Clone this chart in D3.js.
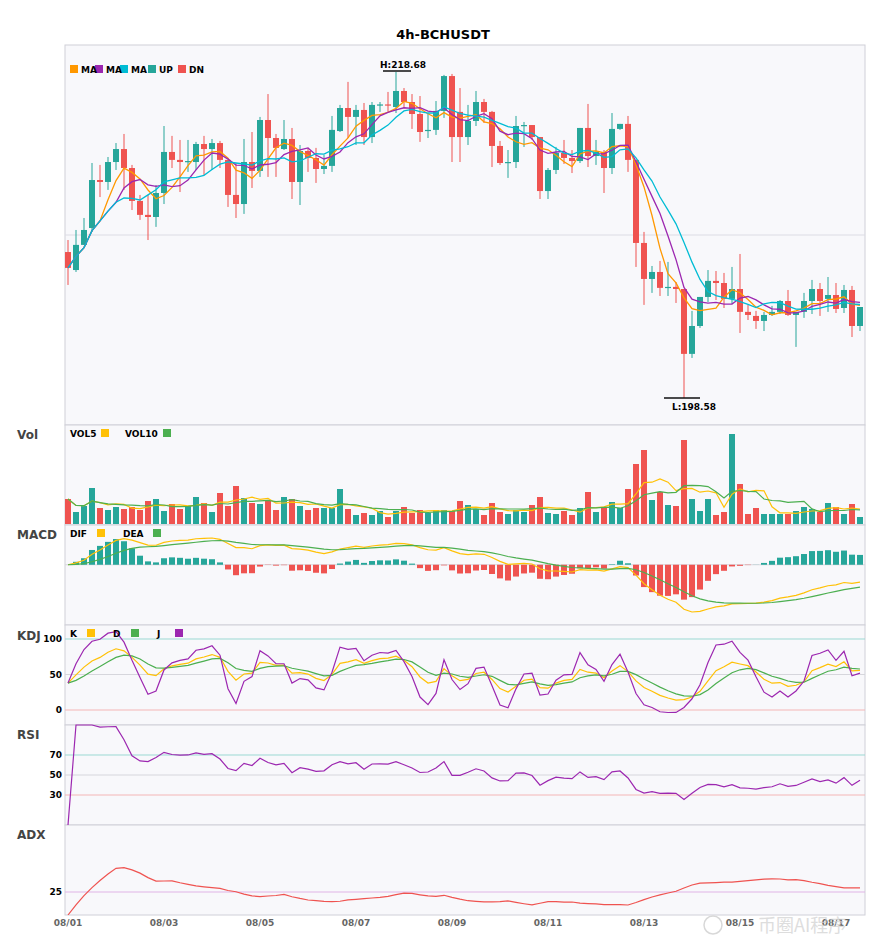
<!DOCTYPE html>
<html>
<head>
<meta charset="utf-8">
<script src="https://cdn.jsdelivr.net/npm/d3@7"></script>
<style>
  body { margin: 0; background: #fff; font-family: "DejaVu Sans", sans-serif; }
</style>
</head>
<body>
<svg id="chart" width="885" height="950"></svg>
<script>
// 4h candles
const open = [207.58,206.47,208.02,209.06,212.02,211.9,213.13,213.93,212.76,210.73,209.87,209.74,211.22,213.75,213.26,213.13,213.13,214.24,213.93,214.3,
  213.26,211.1,210.54,213.13,212.58,215.72,214.61,213.93,214.55,211.9,213.81,213.38,212.7,212.89,215.04,216.46,215.91,216.34,214.67,216.65,
  216.68,216.52,217.51,216.83,216.09,215.04,215.11,216.28,218.43,216.22,214.67,215.66,216.83,216.22,214.12,213.07,213.13,215.35,215.41,214.67,
  211.34,212.64,213.69,213.38,213.19,215.23,213.5,213.75,212.76,215.17,215.48,213.26,208.14,205.92,206.35,205.37,205.43,205.3,201.3,203.02,
  204.81,205.8,205.67,204.69,205.3,203.89,203.64,203.33,203.7,203.89,204.56,203.7,203.89,204.56,205.3,204.69,204.93,204.13,205.24,203.02];
const close = [206.6,208.02,208.94,212.02,211.9,213.13,213.93,212.76,210.73,209.87,209.74,211.22,213.75,213.26,213.13,213.19,214.24,213.93,214.3,213.26,
  211.1,210.54,213.13,212.58,215.72,214.61,214.0,214.55,211.9,213.81,213.38,212.7,212.89,215.11,216.46,215.91,216.34,214.67,216.65,216.68,
  216.65,217.51,216.83,216.09,214.98,215.11,216.28,218.43,214.67,214.67,215.66,216.83,216.22,214.12,213.07,213.13,215.35,215.41,214.67,211.34,
  212.64,213.69,213.38,213.19,215.23,213.5,213.75,212.76,215.17,215.48,213.26,208.14,205.92,206.35,205.37,205.43,205.3,201.3,203.02,204.81,
  205.8,205.67,204.69,205.3,203.89,203.7,203.33,203.7,203.89,204.56,203.7,203.89,204.56,205.3,204.56,204.93,204.07,205.24,203.02,204.19];
const high = [208.32,208.94,209.68,213.07,212.95,213.44,214.3,214.86,212.95,211.1,211.1,211.71,215.35,214.74,214.49,214.49,214.37,214.74,214.55,214.43,
  213.26,213.07,214.55,214.98,215.91,217.32,214.86,215.72,215.23,214.18,214.0,214.0,213.56,215.97,216.65,218.07,216.65,216.77,216.83,216.83,
  217.45,218.68,217.69,217.32,217.2,216.15,216.89,218.5,218.56,217.69,216.65,217.51,217.02,216.28,214.43,213.87,215.97,215.6,215.41,214.67,
  212.76,214.06,214.49,213.87,215.23,216.71,214.49,213.87,216.15,215.48,215.97,213.26,208.82,206.72,207.03,206.97,205.73,205.3,203.95,204.81,
  206.47,206.41,206.29,206.66,207.46,204.32,203.95,203.89,204.26,204.62,205.24,203.89,205.06,205.86,205.67,206.04,205.67,205.55,205.49,204.19];
const low = [205.55,206.35,208.02,208.82,210.97,211.41,212.64,211.41,210.17,209.56,208.32,209.13,210.54,212.76,211.28,212.52,212.64,212.33,212.64,212.76,
  210.36,209.68,209.93,211.53,212.21,212.21,212.21,213.87,210.85,210.48,212.52,211.84,212.39,212.52,214.98,214.61,214.18,214.18,214.3,216.22,
  216.22,216.15,216.46,215.17,214.37,214.61,214.8,215.85,213.13,213.13,214.18,215.35,215.54,212.82,212.95,212.15,212.76,214.06,214.49,210.85,
  210.85,212.39,213.01,212.45,213.07,212.82,212.95,211.22,212.39,215.11,212.52,206.66,204.32,205.06,204.87,204.87,204.44,198.58,201.05,202.9,
  204.5,204.62,204.13,204.38,202.59,203.39,202.84,202.71,203.64,203.76,203.64,201.73,203.52,203.76,203.64,203.89,203.82,203.82,202.34,202.71];
const volume = [25,12,18,36,16,14,17,15,17,14,23,25,13,20,15,18,27,21,12,31,
  18,38,26,21,20,23,14,27,25,18,14,16,16,16,35,15,9,11,9,13,
  7,13,17,11,14,11,14,14,13,23,19,15,9,21,12,10,14,12,19,27,
  11,10,13,9,16,32,12,17,22,16,35,60,74,24,32,19,18,84,25,13,
  25,9,12,90,40,10,16,10,10,10,10,13,17,15,12,21,17,10,20,7];
const tickIdx = [0,12,24,36,48,60,72,84,96];
const tickLabels = ["08/01","08/03","08/05","08/07","08/09","08/11","08/13","08/15","08/17"];
const maPeriods = [5,7,10];

const UP = "#26a69a", DN = "#ef5350";
const svg = d3.select("#chart");
const L = 65, R = 865;
const n = close.length;
const x = d3.scaleLinear().domain([0, n - 1]).range([68, 860]);

// indicator helpers
const sma = (arr, p) => arr.map((_, i) => d3.mean(arr.slice(Math.max(0, i - p + 1), i + 1)));
const ema = (arr, p) => { const k = 2 / (p + 1); let e = arr[0]; return arr.map(v => (e = v * k + e * (1 - k))); };

const ma = maPeriods.map(p => sma(close, p));
const vol5 = sma(volume, 5), vol10 = sma(volume, 10);
const e12 = ema(close, 12), e26 = ema(close, 26);
const dif = close.map((_, i) => e12[i] - e26[i]);
const dea = ema(dif, 9);
const hist = dif.map((d, i) => 2 * (d - dea[i]));

const K = [], D = [], J = [];
close.forEach((c, i) => {
  const s = Math.max(0, i - 8);
  const hh = d3.max(high.slice(s, i + 1)), ll = d3.min(low.slice(s, i + 1));
  const rsv = hh === ll ? 50 : (c - ll) / (hh - ll) * 100;
  const k = i === 0 ? rsv : K[i - 1] * 2 / 3 + rsv / 3;
  const d = i === 0 ? rsv : D[i - 1] * 2 / 3 + k / 3;
  K.push(k); D.push(d); J.push(3 * k - 2 * d);
});

const rsi = [];
let ag = 0, al = 0;
close.forEach((c, i) => {
  if (i === 0) { rsi.push(0); return; }
  const ch = c - close[i - 1];
  const g = Math.max(ch, 0), l = Math.max(-ch, 0);
  if (i <= 14) { ag = (ag * (i - 1) + g) / i; al = (al * (i - 1) + l) / i; }
  else { ag = (ag * 13 + g) / 14; al = (al * 13 + l) / 14; }
  rsi.push(al === 0 ? 100 : 100 - 100 / (1 + ag / al));
});

const adx = [0];
let tr14 = 0, pdm14 = 0, mdm14 = 0, adxv = 0;
for (let i = 1; i < n; i++) {
  const tr = Math.max(high[i] - low[i], Math.abs(high[i] - close[i - 1]), Math.abs(low[i] - close[i - 1]));
  const up = high[i] - high[i - 1], dn = low[i - 1] - low[i];
  const pdm = up > dn && up > 0 ? up : 0, mdm = dn > up && dn > 0 ? dn : 0;
  tr14 = tr14 - tr14 / 14 + tr; pdm14 = pdm14 - pdm14 / 14 + pdm; mdm14 = mdm14 - mdm14 / 14 + mdm;
  const pdi = pdm14 / tr14 * 100, mdi = mdm14 / tr14 * 100;
  const dx = pdi + mdi === 0 ? 0 : Math.abs(pdi - mdi) / (pdi + mdi) * 100;
  adxv = adxv + (dx - adxv) / 9;
  adx.push(adxv);
}

// title
svg.append("text").attr("x", 443).attr("y", 39).attr("text-anchor", "middle")
  .attr("font-size", 13).attr("font-weight", "bold").text("4h-BCHUSDT");

// panel frames
const panels = [[45, 425], [425, 525], [525, 625], [625, 725], [725, 825], [825, 915]];
panels.forEach(([t, b]) => {
  svg.append("rect").attr("x", L).attr("y", t).attr("width", R - L).attr("height", b - t)
    .attr("fill", "#f8f8fb").attr("stroke", "#d0d0d8").attr("stroke-width", 1);
});
[["Vol", 439], ["MACD", 539], ["KDJ", 640], ["RSI", 739], ["ADX", 839]].forEach(([t, y]) => {
  svg.append("text").attr("x", 17).attr("y", y).attr("font-size", 12).attr("font-weight", "bold")
    .attr("fill", "#444").text(t);
});

const line = (ys, arr) => d3.line().x((_, i) => x(i)).y(v => ys(v))(arr);
const path = (d, c, w = 1.2) => svg.append("path").attr("d", d).attr("fill", "none").attr("stroke", c).attr("stroke-width", w);
const clip = (id, t, b) => svg.append("clipPath").attr("id", id).append("rect").attr("x", L).attr("y", t).attr("width", R - L).attr("height", b - t);

// main price panel
const y = d3.scaleLinear().domain([198.58, 218.68]).range([398, 72]);
svg.append("line").attr("x1", L).attr("x2", R).attr("y1", 235).attr("y2", 235).attr("stroke", "#dcdce4");
clip("cMain", 45, 425);
const gm = svg.append("g").attr("clip-path", "url(#cMain)");
close.forEach((c, i) => {
  const col = c >= open[i] ? UP : DN;
  gm.append("line").attr("x1", x(i)).attr("x2", x(i)).attr("y1", y(high[i])).attr("y2", y(low[i]))
    .attr("stroke", col).attr("stroke-width", 1);
  const top = y(Math.max(c, open[i])), bot = y(Math.min(c, open[i]));
  gm.append("rect").attr("x", x(i) - 3).attr("y", top).attr("width", 6).attr("height", Math.max(1.2, bot - top)).attr("fill", col);
});
const maCol = ["#ff9800", "#9c27b0", "#00bcd4"];
ma.forEach((m, k) => gm.append("path").attr("d", line(y, m)).attr("fill", "none").attr("stroke", maCol[k]).attr("stroke-width", 1.3));

const hi = d3.maxIndex(high), lo = d3.minIndex(low);
svg.append("line").attr("x1", x(hi) - 13).attr("x2", x(hi) + 15).attr("y1", y(high[hi]) - 1).attr("y2", y(high[hi]) - 1).attr("stroke", "#111").attr("stroke-width", 1.5);
svg.append("text").attr("x", x(hi) + 7).attr("y", y(high[hi]) - 4).attr("text-anchor", "middle").attr("font-size", 9).attr("font-weight", "bold").text("H:" + high[hi].toFixed(2));
svg.append("line").attr("x1", x(lo) - 20).attr("x2", x(lo) + 16).attr("y1", y(low[lo])).attr("y2", y(low[lo])).attr("stroke", "#111").attr("stroke-width", 1.5);
svg.append("text").attr("x", x(lo) + 10).attr("y", y(low[lo]) + 12).attr("text-anchor", "middle").attr("font-size", 9).attr("font-weight", "bold").text("L:" + low[lo].toFixed(2));

const legend = (items, yy) => items.forEach(([lab, col, xx]) => {
  svg.append("rect").attr("x", xx).attr("y", yy - 8).attr("width", 8).attr("height", 8).attr("fill", col);
  svg.append("text").attr("x", xx + (lab.length ? 11 : 0)).attr("y", yy).attr("font-size", 9).attr("font-weight", "bold").text(lab);
});
legend([["DN", DN, 178], ["UP", UP, 148], ["MA", maCol[2], 120], ["MA", maCol[1], 95], ["MA", maCol[0], 70]], 73);

// volume
const yv = d3.scaleLinear().domain([0, 99]).range([524, 425]);
volume.forEach((v, i) => svg.append("rect").attr("x", x(i) - 3).attr("y", yv(v)).attr("width", 6).attr("height", yv(0) - yv(v))
  .attr("fill", close[i] >= open[i] ? UP : DN));
path(line(yv, vol5), "#ffc107");
path(line(yv, vol10), "#4caf50");
svg.append("text").attr("x", 70).attr("y", 437).attr("font-size", 9).attr("font-weight", "bold").text("VOL5");
svg.append("rect").attr("x", 101).attr("y", 429).attr("width", 8).attr("height", 8).attr("fill", "#ffc107");
svg.append("text").attr("x", 125).attr("y", 437).attr("font-size", 9).attr("font-weight", "bold").text("VOL10");
svg.append("rect").attr("x", 163).attr("y", 429).attr("width", 8).attr("height", 8).attr("fill", "#4caf50");

// MACD
const ext = d3.extent([...dif, ...dea, ...hist]);
const ym = d3.scaleLinear().domain(ext).range([612, 538]);
clip("cMacd", 525, 625);
const gmac = svg.append("g").attr("clip-path", "url(#cMacd)");
gmac.append("line").attr("x1", L).attr("x2", R).attr("y1", ym(0)).attr("y2", ym(0)).attr("stroke", "#d6d6dc");
hist.forEach((h, i) => gmac.append("rect").attr("x", x(i) - 3).attr("y", Math.min(ym(h), ym(0))).attr("width", 6)
  .attr("height", Math.abs(ym(h) - ym(0))).attr("fill", h >= 0 ? UP : DN));
gmac.append("path").attr("d", line(ym, dif)).attr("fill", "none").attr("stroke", "#ffc107").attr("stroke-width", 1.2);
gmac.append("path").attr("d", line(ym, dea)).attr("fill", "none").attr("stroke", "#4caf50").attr("stroke-width", 1.2);
svg.append("text").attr("x", 70).attr("y", 537).attr("font-size", 9).attr("font-weight", "bold").text("DIF");
svg.append("rect").attr("x", 97).attr("y", 529).attr("width", 8).attr("height", 8).attr("fill", "#ffc107");
svg.append("text").attr("x", 123).attr("y", 537).attr("font-size", 9).attr("font-weight", "bold").text("DEA");
svg.append("rect").attr("x", 153).attr("y", 529).attr("width", 8).attr("height", 8).attr("fill", "#4caf50");

// KDJ
const yk = d3.scaleLinear().domain([0, 100]).range([710, 639]);
const refLine = (ys, v, col, lab) => {
  svg.append("line").attr("x1", L).attr("x2", R).attr("y1", ys(v)).attr("y2", ys(v)).attr("stroke", col);
  svg.append("text").attr("x", 62).attr("y", ys(v) + 3).attr("text-anchor", "end").attr("font-size", 9).attr("font-weight", "bold").text(lab);
};
refLine(yk, 100, "#9bd9d3", "100"); refLine(yk, 50, "#d6d6dc", "50"); refLine(yk, 0, "#f4b6b6", "0");
clip("cKdj", 625, 725);
const gk = svg.append("g").attr("clip-path", "url(#cKdj)");
[[K, "#ffc107"], [D, "#4caf50"], [J, "#9c27b0"]].forEach(([a, c]) =>
  gk.append("path").attr("d", line(yk, a)).attr("fill", "none").attr("stroke", c).attr("stroke-width", 1.2));
legend([["", "#ffc107", 87], ["", "#4caf50", 131], ["", "#9c27b0", 175]], 637);
[["K", 70], ["D", 113], ["J", 157]].forEach(([t, xx]) => svg.append("text").attr("x", xx).attr("y", 637).attr("font-size", 9).attr("font-weight", "bold").text(t));

// RSI
const yr = d3.scaleLinear().domain([0, 100]).range([825, 725]);
refLine(yr, 70, "#9bd9d3", "70"); refLine(yr, 50, "#d6d6dc", "50"); refLine(yr, 30, "#f4b6b6", "30");
path(line(yr, rsi), "#9c27b0");

// ADX
const ya = d3.scaleLinear().domain([0, 100]).range([915, 823]);
refLine(ya, 25, "#e0b4e6", "25");
clip("cAdx", 825, 915);
svg.append("g").attr("clip-path", "url(#cAdx)").append("path").attr("d", line(ya, adx))
  .attr("fill", "none").attr("stroke", "#ef5350").attr("stroke-width", 1.2);

// x axis
tickIdx.forEach((t, k) => svg.append("text").attr("x", x(t)).attr("y", 926).attr("text-anchor", "middle")
  .attr("font-size", 9).attr("font-weight", "bold").attr("fill", "#666").text(tickLabels[k]));

// watermark
svg.append("text").attr("x", 758).attr("y", 932).attr("font-size", 18).attr("fill", "#d0d0d0")
  .attr("opacity", 0.7).attr("font-family", "Noto Sans CJK SC").text("币圈AI程序");
svg.append("circle").attr("cx", 713).attr("cy", 925).attr("r", 9).attr("fill", "none").attr("stroke", "#d8d8d8").attr("stroke-width", 1.5);
</script>
</body>
</html>
